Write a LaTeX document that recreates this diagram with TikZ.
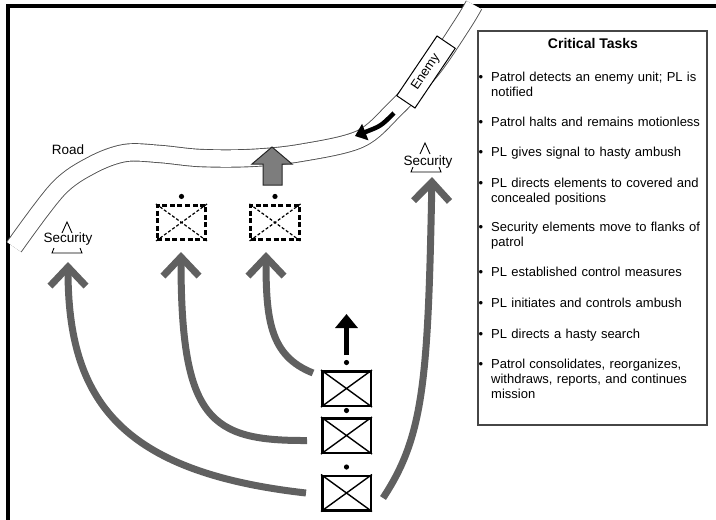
\documentclass[tikz,border=0pt]{standalone}
\usepackage{fontspec}
\setmainfont{Liberation Sans}
\usetikzlibrary{arrows.meta}
\definecolor{armgray}{RGB}{96,96,96}
\definecolor{roadgray}{RGB}{80,80,80}
\definecolor{blockgray}{RGB}{125,125,125}
\definecolor{boxgray}{RGB}{70,70,70}
\begin{document}
\begin{tikzpicture}[x=1pt,y=-1pt,
  frame/.style={line width=4pt,black},
  road/.style={draw=roadgray,line width=0.9pt,double=white,double distance=16.5pt},
  unitbox/.style={draw,line width=2.5pt,minimum width=48.5pt,minimum height=34.5pt,inner sep=0pt},
  dashbox/.style={draw,line width=2.6pt,dash pattern=on 5pt off 2.6pt,minimum width=48.5pt,minimum height=34.5pt,inner sep=0pt},
  crossline/.style={line width=1.4pt},
  dashcross/.style={line width=1.2pt,dash pattern=on 3pt off 2pt},
  arm/.style={draw=armgray,line width=7pt,line cap=butt,-{Straight Barb[length=19pt,width=36pt,line join=miter]}},
  blackarrow/.style={draw=black,line width=4.5pt,-{Triangle[length=14pt,width=22pt]}},
  roadarrow/.style={draw=black,line width=4.5pt,-{Triangle[length=11pt,width=17pt]}},
  blockarrow/.style={draw=black!85,line width=1pt,fill=blockgray,line join=miter},
  enemybox/.style={draw,line width=1pt,fill=white,minimum width=72pt,minimum height=22pt,inner sep=0pt,font=\fontsize{13}{15}\selectfont},
  label/.style={font=\fontsize{13.5}{15}\selectfont,anchor=base,inner sep=0pt},
  sectri/.style={line width=0.9pt,black},
  dot/.style={fill=black},
  tasksbox/.style={draw=boxgray,line width=1.6pt,minimum width=229pt,minimum height=394pt,inner sep=0pt},
  tasktitle/.style={font=\bfseries\fontsize{14}{16}\selectfont,anchor=base,inner sep=0pt},
  bulletmark/.style={font=\fontsize{13}{15}\selectfont,anchor=base,inner sep=0pt},
  tasktext/.style={font=\fontsize{13}{15}\selectfont,anchor=base west,text width=214pt,align=left,inner sep=0pt}
]
\useasboundingbox (0,0) rectangle (716,520);
% outer frame
\draw[frame] (8,520) -- (8,6) -- (716,6);

% road
\draw[road] plot[smooth,tension=0.55] coordinates {(14,247) (58,189) (92,165) (125,153) (160,154) (200,158) (250,158) (300,153) (360,139) (395,109) (432,69) (462,25) (474,5)};
\node[label] (road) at (68,154) {Road};

% enemy
\draw[roadarrow] (394,113) .. controls (381,126) .. (355,136);
\node[enemybox,rotate=56] (enemy) at (426,72) {Enemy};

% gray block arrow
\draw[blockarrow] (263,185) -- (263,164) -- (252,164) -- (272,147) -- (292,164) -- (282,164) -- (282,185) -- cycle;

% security left
\node[label] (secL) at (68,242) {Security};
\draw[sectri] (62,233) -- (67,222) -- (72,233);
\draw[sectri] (54,248) -- (52,253) -- (82,253) -- (80,248);
% security right
\node[label] (secR) at (428,165) {Security};
\draw[sectri] (420,154) -- (425,143) -- (430,154);
\draw[sectri] (413,167) -- (411,172) -- (441,172) -- (439,167);

% dashed (planned) positions
\node[dashbox] (d1) at (181.5,222.5) {};
\draw[dashcross] (d1.north west) -- (d1.south east) (d1.north east) -- (d1.south west);
\fill[dot] ([yshift=7.5pt]d1.north) circle (2.6pt);
\node[dashbox] (d2) at (275,222.5) {};
\draw[dashcross] (d2.north west) -- (d2.south east) (d2.north east) -- (d2.south west);
\fill[dot] ([yshift=7.5pt]d2.north) circle (2.6pt);

% patrol units
\node[unitbox] (uA) at (346.5,388.5) {};
\draw[crossline] (uA.north west) -- (uA.south east) (uA.north east) -- (uA.south west);
\fill[dot] ([yshift=7.5pt]uA.north) circle (2.6pt);
\node[unitbox] (uB) at (346.5,435.5) {};
\draw[crossline] (uB.north west) -- (uB.south east) (uB.north east) -- (uB.south west);
\fill[dot] ([yshift=6.5pt]uB.north) circle (2.6pt);
\node[unitbox] (uC) at (346.5,493) {};
\draw[crossline] (uC.north west) -- (uC.south east) (uC.north east) -- (uC.south west);
\fill[dot] ([yshift=7.5pt]uC.north) circle (2.6pt);

% arrows
\coordinate (tipL) at (68,262);
\coordinate (tipD1) at (181,252);
\coordinate (tipD2) at (266,252);
\coordinate (tipR) at (432,177);
\draw[blackarrow] ([yshift=15pt]uA.north) -- ++(0,-41);
\draw[arm] ([xshift=-15pt]uC.west) .. controls (120,472) and (68,400) .. (tipL);
\draw[arm] ([xshift=-14pt,yshift=-5pt]uB.west) .. controls (210,441) and (181,420) .. (tipD1);
\draw[arm] ([xshift=-8pt,yshift=-3pt]uA.north west) .. controls (270,356) and (266,320) .. (tipD2);
\draw[arm] ([xshift=11pt,yshift=-5pt]uC.east) .. controls (424,436) and (428,380) .. (tipR);

% critical tasks
\node[tasksbox] (tasks) at (592.5,228) {};
\node[tasktitle] (title) at (593,48) {Critical Tasks};
\foreach \i/\y/\t in {
  1/81/{Patrol detects an enemy unit; PL is\\notified},
  2/126/{Patrol halts and remains motionless},
  3/156/{PL gives signal to hasty ambush},
  4/187/{PL directs elements to covered and\\concealed positions},
  5/231/{Security elements move to flanks of\\patrol},
  6/276/{PL established control measures},
  7/307/{PL initiates and controls ambush},
  8/338/{PL directs a hasty search},
  9/368/{Patrol consolidates, reorganizes,\\withdraws, reports, and continues\\mission}}{
  \node[bulletmark] (b\i) at (481,\y) {•};
  \node[tasktext] (t\i) at (491,\y) {\t};
}
\end{tikzpicture}
\end{document}
